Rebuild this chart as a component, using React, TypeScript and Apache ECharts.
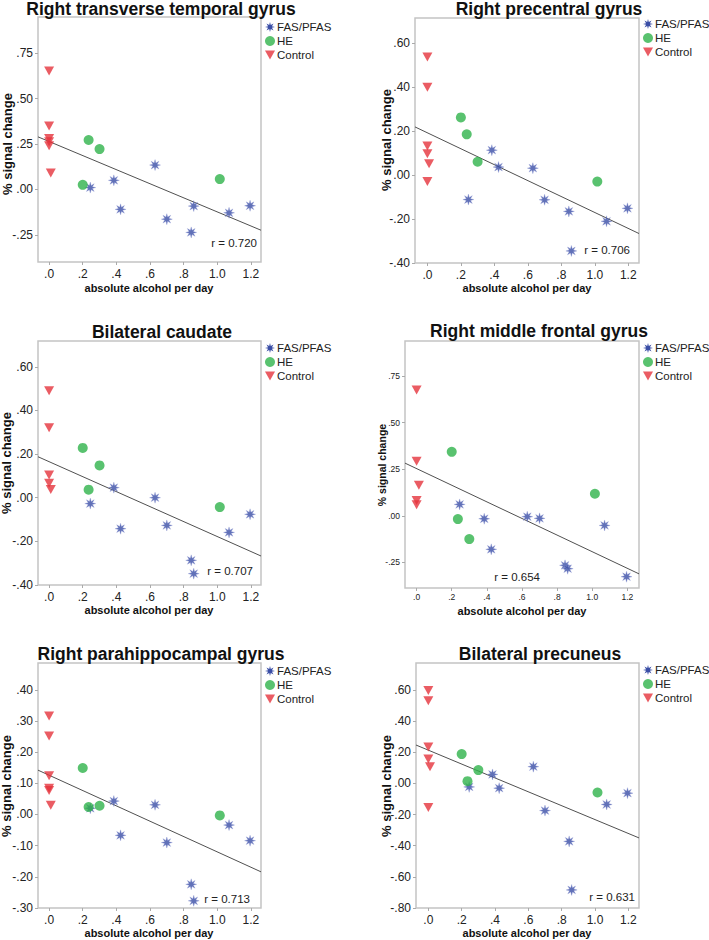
import React, { useEffect, useRef } from "react";
import * as echarts from "echarts";

const FONT = '"Liberation Sans", Arial, Helvetica, sans-serif';

// ---------- data ----------
const titles = [
  "Right transverse temporal gyrus",
  "Right precentral gyrus",
  "Bilateral caudate",
  "Right middle frontal gyrus",
  "Right parahippocampal gyrus",
  "Bilateral precuneus",
];

// absolute alcohol per day (shared subjects)
const fasX = [0.245, 0.385, 0.425, 0.63, 0.7, 0.845, 0.86, 1.07, 1.195];
const heX = [0.2, 0.235, 0.3, 1.015];

// % signal change, FAS/PFAS
const fasY1 = [0.01, 0.05, -0.11, 0.134, -0.164, -0.237, -0.092, -0.129, -0.09];
const fasY2 = [-0.111, 0.114, 0.037, 0.032, -0.112, -0.165, -0.345, -0.21, -0.151];
const fasY3 = [-0.027, 0.046, -0.142, 0.0, -0.127, -0.287, -0.348, -0.159, -0.076];
const fasY4 = [0.061, -0.016, -0.18, -0.005, -0.014, -0.266, -0.284, -0.052, -0.327];
const fasY5 = [0.02, 0.043, -0.067, 0.031, -0.09, -0.224, -0.277, -0.034, -0.084];
const fasY6 = [-0.022, 0.058, -0.03, 0.108, -0.174, -0.372, -0.684, -0.135, -0.062];

// HE
const heY1 = [0.025, 0.272, 0.222, 0.057];
const heY2 = [0.263, 0.186, 0.061, -0.029];
const heY3 = [0.228, 0.037, 0.148, -0.043];
const heY4 = [0.343, -0.018, -0.125, 0.118];
const heY5 = [0.149, 0.024, 0.028, -0.003];
const heY6 = [0.189, 0.015, 0.086, -0.058];

// Control
const ctrlX1 = [0, 0, 0, 0, 0, 0.01];
const ctrlY1 = [0.652, 0.35, 0.281, 0.262, 0.24, 0.09];
const ctrlX2 = [0, 0, 0, 0, 0.01, 0];
const ctrlY2 = [0.538, 0.4, 0.133, 0.098, 0.052, -0.029];
const ctrlX3 = [0, 0, 0, 0, 0.01];
const ctrlY3 = [0.49, 0.321, 0.104, 0.066, 0.038];
const ctrlX4 = [0, 0, 0.013, 0, 0];
const ctrlY4 = [0.675, 0.293, 0.164, 0.082, 0.059];
const ctrlX5 = [0, 0, 0, 0, 0, 0.01];
const ctrlY5 = [0.316, 0.252, 0.124, 0.084, 0.077, 0.03];
const ctrlX6 = [0, 0, 0, 0, 0.01, 0];
const ctrlY6 = [0.598, 0.531, 0.234, 0.157, 0.108, -0.155];

// fit lines (y = a + b x)
const fitIntercept = [0.264, 0.193, 0.165, 0.253, 0.126, 0.214];
const fitSlope = [-0.388, -0.363, -0.343, -0.446, -0.246, -0.446];
const rLabels = ["r = 0.720", "r = 0.706", "r = 0.707", "r = 0.654", "r = 0.713", "r = 0.631"];

// ticks
const xTicks = [0, 0.2, 0.4, 0.6, 0.8, 1.0, 1.2];
const yTicksA = [-0.25, 0, 0.25, 0.5, 0.75];
const yTicksB = [-0.4, -0.2, 0, 0.2, 0.4, 0.6];
const yTicksC = [-0.3, -0.2, -0.1, 0, 0.1, 0.2, 0.3, 0.4];
const yTicksD = [-0.8, -0.6, -0.4, -0.2, 0, 0.2, 0.4, 0.6];

const legendNames = ["FAS/PFAS", "HE", "Control"];
const xName = "absolute alcohol per day";
const yName = "% signal change";

// ---------- layout ----------
const panels = [
  { left: 38, top: 17, width: 223, height: 245, xMin: -0.066, xMax: 1.26, yMin: -0.4, yMax: 0.95, yTicks: yTicksA,
    fasY: fasY1, heY: heY1, ctrlX: ctrlX1, ctrlY: ctrlY1,
    title: [161, 9], yN: [7, 144], xN: [149, 288], r: [257, 243], leg: [265, 21], small: false },
  { left: 415, top: 18, width: 224, height: 245, xMin: -0.074, xMax: 1.264, yMin: -0.4, yMax: 0.716, yTicks: yTicksB,
    fasY: fasY2, heY: heY2, ctrlX: ctrlX2, ctrlY: ctrlY2,
    title: [549, 9], yN: [386, 140], xN: [527, 288], r: [630, 250], leg: [643, 18], small: false },
  { left: 38, top: 341, width: 223, height: 244, xMin: -0.066, xMax: 1.26, yMin: -0.4, yMax: 0.718, yTicks: yTicksB,
    fasY: fasY3, heY: heY3, ctrlX: ctrlX3, ctrlY: ctrlY3,
    title: [162, 332], yN: [6, 463], xN: [149, 610], r: [253, 571], leg: [265, 342], small: false },
  { left: 405, top: 341, width: 234, height: 247, xMin: -0.066, xMax: 1.266, yMin: -0.3875, yMax: 0.9375, yTicks: yTicksA,
    fasY: fasY4, heY: heY4, ctrlX: ctrlX4, ctrlY: ctrlY4,
    title: [539, 331], yN: [382, 465], xN: [522, 611], r: [540, 577], leg: [643, 342], small: true },
  { left: 38, top: 663, width: 223, height: 245, xMin: -0.066, xMax: 1.26, yMin: -0.3, yMax: 0.486, yTicks: yTicksC,
    fasY: fasY5, heY: heY5, ctrlX: ctrlX5, ctrlY: ctrlY5,
    title: [161, 654], yN: [6, 786], xN: [149, 933], r: [250, 899], leg: [265, 665], small: false },
  { left: 416, top: 663, width: 223, height: 245, xMin: -0.074, xMax: 1.264, yMin: -0.8, yMax: 0.774, yTicks: yTicksD,
    fasY: fasY6, heY: heY6, ctrlX: ctrlX6, ctrlY: ctrlY6,
    title: [540, 654], yN: [386, 786], xN: [527, 933], r: [635, 897], leg: [643, 664], small: false },
];

// ---------- symbols ----------
function starPath(): string {
  let d = "";
  for (let i = 0; i < 16; i++) {
    const a = (i * Math.PI) / 8 - Math.PI / 2;
    const r = i % 2 === 0 ? 10 : 4.2;
    const x = 10 + r * Math.cos(a);
    const y = 10 + r * Math.sin(a);
    d += (i === 0 ? "M" : "L") + x.toFixed(2) + "," + y.toFixed(2);
  }
  return "path://" + d + "Z";
}
const STAR = starPath();
const TRI = "path://M0,0L10,0L5,9Z";

const BLUE = "#3a4ea6";
const GREEN = "#2fb34b";
const RED = "#e5333c";

const fmtX = (v: number) => {
  const s = Math.abs(v) < 1e-9 ? "0.0" : v.toFixed(1);
  return s.replace(/^(-?)0\./, "$1.");
};
const fmtY = (v: number) => {
  const s = Math.abs(v) < 1e-9 ? "0.00" : v.toFixed(2);
  return s.replace(/^(-?)0\./, "$1.");
};

export default function App() {
  const ref = useRef<HTMLDivElement>(null);

  useEffect(() => {
    if (!ref.current) return;
    const chart = echarts.init(ref.current, null, { renderer: "svg" });

    const grid: any[] = [];
    const xAxis: any[] = [];
    const yAxis: any[] = [];
    const series: any[] = [];
    const legend: any[] = [];
    const graphic: any[] = [];

    panels.forEach((p, i) => {
      const tickFont = p.small ? 8.5 : 12;
      grid.push({
        left: p.left, top: p.top, width: p.width, height: p.height,
        show: true, borderColor: "#c4c4c4", borderWidth: 1.5, backgroundColor: "#fff",
      });
      xAxis.push({
        type: "value", gridIndex: i, min: p.xMin, max: p.xMax,
        axisLine: { show: false, onZero: false },
        axisTick: { show: true, length: 3, customValues: xTicks, lineStyle: { color: "#aaa" } },
        axisLabel: { customValues: xTicks, formatter: fmtX, fontSize: tickFont, color: "#222", fontFamily: FONT, margin: p.small ? 4 : 6 },
        splitLine: { show: false },
      });
      yAxis.push({
        type: "value", gridIndex: i, min: p.yMin, max: p.yMax,
        axisLine: { show: false, onZero: false },
        axisTick: { show: true, length: 3, customValues: p.yTicks, lineStyle: { color: "#aaa" } },
        axisLabel: { customValues: p.yTicks, formatter: fmtY, fontSize: tickFont, color: "#222", fontFamily: FONT, margin: 5 },
        splitLine: { show: false },
      });

      series.push({
        type: "line", name: "fit", xAxisIndex: i, yAxisIndex: i, silent: true,
        symbol: "none", z: 1,
        lineStyle: { color: "#505050", width: 1 },
        data: [p.xMin, p.xMax].map((x) => [x, fitIntercept[i] + fitSlope[i] * x]),
      });
      series.push({
        type: "scatter", name: "FAS/PFAS", xAxisIndex: i, yAxisIndex: i, z: 3,
        symbol: STAR, symbolSize: 11,
        itemStyle: { color: BLUE, borderColor: "#8d98d4", borderWidth: 0.4 },
        data: fasX.map((x, k) => [x, p.fasY[k]]),
      });
      series.push({
        type: "scatter", name: "HE", xAxisIndex: i, yAxisIndex: i, z: 3,
        symbol: "circle", symbolSize: 10,
        itemStyle: { color: GREEN },
        data: heX.map((x, k) => [x, p.heY[k]]),
      });
      series.push({
        type: "scatter", name: "Control", xAxisIndex: i, yAxisIndex: i, z: 3,
        symbol: TRI, symbolSize: [10, 9],
        itemStyle: { color: RED },
        data: p.ctrlX.map((x, k) => [x, p.ctrlY[k]]),
      });

      legend.push({
        left: p.leg[0], top: p.leg[1], orient: "vertical", padding: 0,
        itemWidth: 10, itemHeight: 10, itemGap: 2, selectedMode: false,
        textStyle: { fontSize: 11.5, color: "#222", fontFamily: FONT, padding: [0, 0, 0, -3] },
        data: [
          { name: legendNames[0], icon: STAR, itemStyle: { color: BLUE, borderWidth: 0, opacity: 1 } },
          { name: legendNames[1], icon: "circle", itemStyle: { color: GREEN, borderWidth: 0 } },
          { name: legendNames[2], icon: TRI, itemStyle: { color: RED, borderWidth: 0 } },
        ],
      });

      graphic.push({
        type: "text", x: p.title[0], y: p.title[1], silent: true,
        style: { text: titles[i], fontSize: 17.5, fontWeight: "bold", fontFamily: FONT, fill: "#111", textAlign: "center", textVerticalAlign: "middle" },
      });
      graphic.push({
        type: "text", x: p.yN[0], y: p.yN[1], rotation: Math.PI / 2, silent: true,
        style: { text: yName, fontSize: p.small ? 10.5 : 13, fontWeight: "bold", fontFamily: FONT, fill: "#111", textAlign: "center", textVerticalAlign: "middle" },
      });
      graphic.push({
        type: "text", x: p.xN[0], y: p.xN[1], silent: true,
        style: { text: xName, fontSize: 11, fontWeight: "bold", fontFamily: FONT, fill: "#111", textAlign: "center", textVerticalAlign: "middle" },
      });
      graphic.push({
        type: "text", x: p.r[0], y: p.r[1], silent: true, z: 10,
        style: { text: rLabels[i], fontSize: 11.5, fontFamily: FONT, fill: "#222", textAlign: "right", textVerticalAlign: "middle" },
      });
    });

    chart.setOption({
      animation: false,
      backgroundColor: "#fff",
      grid, xAxis, yAxis, series, legend, graphic,
    });

    return () => chart.dispose();
  }, []);

  return (
    <div
      ref={ref}
      style={{ position: "absolute", left: 0, top: 0, width: 709, height: 940 }}
    />
  );
}
